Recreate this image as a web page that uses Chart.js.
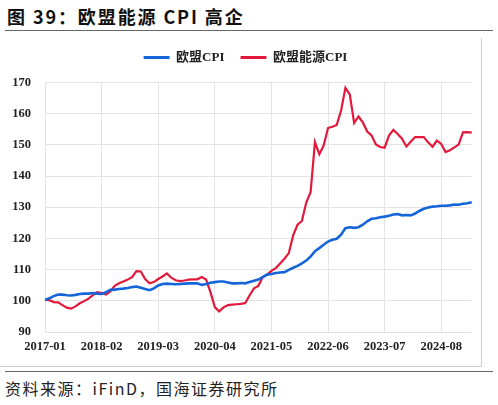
<!DOCTYPE html>
<html>
<head>
<meta charset="utf-8">
<title>欧盟能源 CPI 高企</title>
<script src="https://cdn.jsdelivr.net/npm/chart.js"></script>
<style>
    body { margin: 0; background: #fff; }
    #page { position: relative; width: 498px; height: 405px; overflow: hidden; }
    #title { position: absolute; left: 7px; top: 3px; font: bold 18px "Noto Sans CJK SC", sans-serif; letter-spacing: 1.9px; color: #111; white-space: nowrap; }
    .rule { position: absolute; left: 5px; width: 488px; height: 0; border-top: 1.5px solid #666; }
    #box { position: absolute; left: 0; top: 38px; width: 482px; height: 329px; border-right: 1px solid #d0d0d0; border-bottom: 1px solid #d0d0d0; box-sizing: border-box; }
    #wrap { position: absolute; left: 0; top: 38px; width: 491px; height: 329px; }
    #src { position: absolute; left: 5px; top: 376px; font: 16px "Noto Sans CJK SC", sans-serif; letter-spacing: 1.5px; color: #222; white-space: nowrap; }
</style>
</head>
<body>
<div id="page">
    <div id="title">图 39：欧盟能源 CPI 高企</div>
    <div class="rule" style="top:30px"></div>
    <div id="box"></div>
    <div id="wrap"><canvas id="cpiChart"></canvas></div>
    <div class="rule" style="top:371px"></div>
    <div id="src">资料来源：iFinD，国海证券研究所</div>
</div>

<script>
// monthly categories 2017-01 .. 2025-03
const months = [];
for (let y = 2017; y <= 2025; y++) {
    for (let m = 1; m <= 12; m++) {
        if (y === 2025 && m > 3) break;
        months.push(y + '-' + String(m).padStart(2, '0'));
    }
}

// ticks shown on the x axis
const tickLabels = ['2017-01', '2018-02', '2019-03', '2020-04', '2021-05', '2022-06', '2023-07', '2024-08'];

// 欧盟CPI
const cpi = [
    100.3, 100.8, 101.5, 102.0, 102.0, 101.8, 101.7, 101.9, 102.2, 102.3,
    102.3, 102.5, 102.3, 102.2, 102.8, 103.5, 103.6, 103.8, 103.9, 104.1,
    104.4, 104.6, 104.2, 103.8, 103.4, 104.0, 104.9, 105.4, 105.5, 105.4,
    105.3, 105.4, 105.5, 105.6, 105.6, 105.6, 105.1, 105.4, 105.8, 106.0,
    106.2, 106.2, 105.9, 105.6, 105.6, 105.7, 105.6, 106.0, 106.4, 106.8,
    107.6, 108.4, 108.6, 108.9, 109.1, 109.2, 109.9, 110.6, 111.2, 112.0,
    112.9, 114.2, 115.9, 116.9, 118.0, 119.0, 119.6, 119.9, 121.2, 123.3,
    123.6, 123.4, 123.6, 124.4, 125.5, 126.3, 126.5, 126.8, 127.0, 127.3,
    127.7, 127.8, 127.4, 127.5, 127.4, 128.0, 128.8, 129.5, 129.9, 130.2,
    130.3, 130.5, 130.5, 130.6, 130.9, 130.8, 131.1, 131.3, 131.6
];

// 欧盟能源CPI
const energyCpi = [
    100.3, 100.2, 99.6, 99.5, 98.6, 97.8, 97.5, 98.2, 99.2, 99.9,
    100.7, 101.8, 102.8, 102.5, 102.0, 103.0, 104.8, 105.6, 106.2, 106.8,
    107.6, 109.5, 109.4, 107.0, 105.6, 106.0, 107.0, 107.8, 108.8, 107.4,
    106.6, 106.3, 106.5, 106.8, 106.9, 106.9, 107.6, 106.8, 102.8, 98.0,
    96.6, 97.9, 98.6, 98.8, 98.9, 99.0, 99.3, 101.8, 104.0, 104.8,
    107.6, 108.4, 109.6, 110.5, 112.0, 113.5, 115.3, 121.0, 124.4, 125.6,
    131.5, 134.8, 150.9, 147.0, 149.8, 155.4, 155.8, 156.4, 161.0, 168.3,
    166.2, 157.0, 159.1, 157.2, 154.3, 153.0, 150.1, 149.3, 149.1, 153.0,
    154.8, 153.5, 152.0, 149.5, 151.0, 152.5, 152.5, 152.5, 150.8, 149.4,
    151.4, 150.3, 147.7, 148.3, 149.2, 150.1, 154.0, 154.1, 153.9
];

const tickFont = { family: '"Liberation Serif", "Times New Roman", serif', size: 12.5, weight: 'bold' };
const gridColor = '#e3e3e3';

new Chart(document.getElementById('cpiChart'), {
    type: 'line',
    data: {
        labels: months,
        datasets: [{
            label: '欧盟CPI',
            data: cpi,
            borderColor: '#1565DA',
            backgroundColor: '#1565DA',
            borderWidth: 2.6,
            pointRadius: 0,
            tension: 0
        }, {
            label: '欧盟能源CPI',
            data: energyCpi,
            borderColor: '#E2193B',
            backgroundColor: '#E2193B',
            borderWidth: 2.2,
            pointRadius: 0,
            tension: 0
        }]
    },
    options: {
        responsive: true,
        maintainAspectRatio: false,
        animation: false,
        layout: { padding: { top: -3, right: 0, left: 0, bottom: 0 } },
        plugins: {
            tooltip: { enabled: false },
            legend: {
                position: 'top',
                labels: {
                    boxWidth: 26,
                    boxHeight: 3,
                    padding: 16,
                    color: '#222',
                    font: { family: '"Liberation Serif", "Noto Sans CJK SC", serif', size: 13, weight: 'bold' },
                    generateLabels: chart => Chart.defaults.plugins.legend.labels.generateLabels(chart)
                        .map(l => Object.assign(l, { lineWidth: 0, fillStyle: l.strokeStyle }))
                }
            }
        },
        scales: {
            // empty strip between legend and plot
            gap: {
                type: 'category',
                position: 'top',
                grid: { display: false },
                border: { display: false },
                ticks: { display: false },
                afterFit: scale => { scale.height = 8.5; }
            },
            // empty strip on the right, keeps the legend centred like the original
            side: {
                type: 'linear',
                position: 'right',
                grid: { display: false },
                border: { display: false },
                ticks: { display: false },
                afterFit: scale => { scale.width = 19.3; }
            },
            x: {
                border: { display: false },
                grid: { color: gridColor, drawTicks: false },
                ticks: {
                    autoSkip: false,
                    maxRotation: 0,
                    padding: 7,
                    color: '#222',
                    font: tickFont,
                    callback: function (value) {
                        const lab = this.getLabelForValue(value);
                        return tickLabels.includes(lab) ? lab : null;
                    }
                },
                afterFit: scale => { scale.height = 35; }
            },
            y: {
                min: 90,
                max: 170,
                border: { display: false },
                grid: { color: gridColor, drawTicks: false },
                ticks: {
                    stepSize: 10,
                    padding: 14,
                    color: '#222',
                    font: tickFont
                },
                afterFit: scale => { scale.width = 45; }
            }
        }
    }
});
</script>
</body>
</html>
